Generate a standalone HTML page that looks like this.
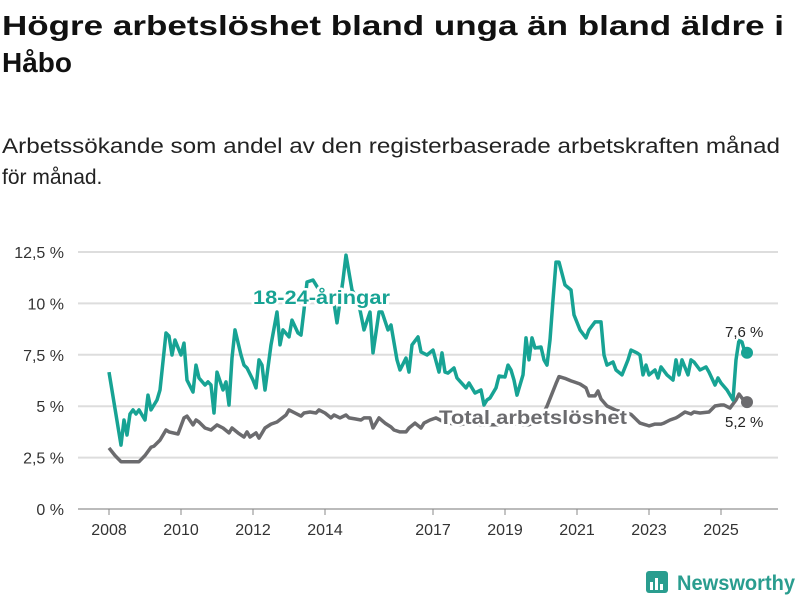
<!DOCTYPE html>
<html><head><meta charset="utf-8"><style>
body{margin:0;background:#fff;width:800px;height:600px;overflow:hidden;font-family:"Liberation Sans",sans-serif}
</style></head><body>
<svg id="chart" width="800" height="600" xmlns="http://www.w3.org/2000/svg" font-family="Liberation Sans, sans-serif">
<text x="2" y="35" font-size="28" font-weight="bold" fill="#111" textLength="782" lengthAdjust="spacingAndGlyphs">Högre arbetslöshet bland unga än bland äldre i</text>
<text x="2" y="72" font-size="28" font-weight="bold" fill="#111">Håbo</text>
<text x="2" y="153" font-size="21" fill="#222" textLength="778" lengthAdjust="spacingAndGlyphs">Arbetssökande som andel av den registerbaserade arbetskraften månad</text>
<text x="2" y="184" font-size="21" fill="#222">för månad.</text>
<g id="grid"></g><g id="axes"></g><g id="lines"></g><g id="labels"></g>
<g>
<rect x="646" y="571" width="22" height="22" rx="3" fill="#2a9d8f"/>
<rect x="650" y="582" width="3" height="8" fill="#fff"/><rect x="655" y="578" width="3" height="12" fill="#fff"/><rect x="660" y="584" width="3" height="6" fill="#fff"/>
<text x="677" y="590" font-size="21" font-weight="bold" fill="#2a9d8f" textLength="118" lengthAdjust="spacingAndGlyphs">Newsworthy</text>
</g>
</svg>
<script>
const yTicks=[0,2.5,5,7.5,10,12.5];
const yTickLabels=["0 %","2,5 %","5 %","7,5 %","10 %","12,5 %"];
const xTickYears=[2008,2010,2012,2014,2017,2019,2021,2023,2025];
const youthMonths=[0,4,5,6,7,8,9,10,12,13,14,16,17,19,20,21,22,24,25,26,28,29,30,32,33,34,35,36,38,39,40,41,42,44,45,46,48,49,50,51,52,54,56,57,58,60,61,63,64,65,66,68,69,72,75,76,78,79,81,83,85,87,88,90,91,93,94,96,97,99,100,101,103,104,106,108,110,111,112,113,115,116,119,120,122,124,125,126,127,129,130,132,133,134,135,136,138,139,140,141,142,144,145,146,147,148,149,150,152,154,155,157,159,160,162,164,165,166,168,169,171,173,174,176,177,178,179,180,182,183,184,186,188,189,190,191,193,194,195,197,199,200,202,203,204,206,208,209,210,211,212];
const youthValues=[6.66,3.11,4.33,3.6,4.62,4.82,4.62,4.82,4.33,5.54,4.82,5.3,5.79,8.56,8.41,7.49,8.22,7.49,8.07,6.27,5.69,7.0,6.37,6.03,6.18,6.03,4.67,6.66,5.79,6.18,5.06,7.34,8.71,7.49,7.0,6.86,6.27,5.89,7.25,7.0,5.79,7.98,9.58,7.98,8.71,8.37,9.19,8.56,8.46,9.68,11.04,11.14,10.9,10.17,10.02,9.05,11.14,12.35,10.65,10.17,8.71,9.58,7.59,9.58,9.58,8.71,8.95,7.25,6.76,7.34,6.66,7.98,8.37,7.64,7.49,7.73,6.66,7.59,6.66,6.61,6.86,6.37,5.89,6.13,5.64,5.79,5.06,5.3,5.4,5.89,6.47,6.42,7.0,6.76,6.27,5.54,6.52,8.32,7.25,8.32,7.83,7.88,7.25,7.0,8.22,10.17,12.01,12.01,10.9,10.65,9.44,8.71,8.32,8.71,9.1,9.1,7.49,7.0,7.15,6.76,6.52,7.25,7.73,7.59,7.49,6.52,7.0,6.52,6.76,6.37,6.91,6.52,6.27,7.25,6.52,7.25,6.52,7.25,7.15,6.76,6.91,6.66,6.03,6.37,6.13,5.79,5.3,7.25,8.22,8.12,7.6];
const totalMonths=[0,2,4,10,12,14,15,17,19,20,23,25,26,28,29,30,32,34,36,38,40,41,43,45,46,47,49,50,52,54,56,59,60,62,64,65,67,69,70,72,74,75,77,79,80,82,84,85,87,88,90,92,94,95,97,99,100,102,104,105,107,109,112,117,120,124,127,130,134,137,140,144,146,149,150,152,154,155,157,159,160,162,163,164,166,169,172,174,177,179,180,182,184,185,187,189,190,192,194,195,197,200,202,204,205,207,209,210,212];
const totalValues=[2.97,2.6,2.3,2.3,2.6,3.0,3.06,3.35,3.84,3.75,3.65,4.43,4.52,4.09,4.33,4.23,3.94,3.84,4.09,3.94,3.7,3.94,3.7,3.5,3.75,3.5,3.7,3.45,3.94,4.13,4.23,4.57,4.82,4.67,4.52,4.67,4.72,4.67,4.82,4.67,4.43,4.57,4.43,4.57,4.43,4.38,4.33,4.43,4.43,3.94,4.43,4.18,3.99,3.84,3.75,3.75,3.94,4.18,3.94,4.18,4.33,4.43,4.2,4.1,4.2,4.1,4.1,4.1,4.2,4.1,4.1,4.4,5.0,6.1,6.44,6.35,6.23,6.18,6.08,5.89,5.5,5.5,5.74,5.35,5.01,4.8,4.7,4.6,4.18,4.09,4.04,4.13,4.13,4.18,4.33,4.43,4.52,4.72,4.62,4.72,4.67,4.72,5.01,5.06,5.06,4.91,5.3,5.59,5.2];
const NS="http://www.w3.org/2000/svg";
function xS(m){return 109+m*3;}
function yS(v){return 509-v*20.56;}
function mk(tag,attrs,parent){const e=document.createElementNS(NS,tag);for(const k in attrs)e.setAttribute(k,attrs[k]);document.getElementById(parent).appendChild(e);return e;}
yTicks.forEach((t,i)=>{
 const l=mk('line',{x1:78,x2:778,y1:yS(t),y2:yS(t),stroke:t===0?'#bbb':'#ddd','stroke-width':2},'grid');
 
 
 const tx=mk('text',{x:64,y:yS(t)+6,'text-anchor':'end','font-size':16,fill:'#333'},'axes');
 tx.textContent=yTickLabels[i];
 
 
});
xTickYears.forEach(y=>{
 const x=xS((y-2008)*12);
 const tk=mk('line',{x1:x,x2:x,y1:509,y2:515,stroke:'#888','stroke-width':1},'axes');
 
 
 const tx=mk('text',{x:x,y:535,'text-anchor':'middle','font-size':16,fill:'#333'},'axes');
 tx.textContent=y;
 
 
});
function path(ms,vs){return ms.map((m,i)=>(i?'L':'M')+xS(m).toFixed(1)+','+yS(vs[i]).toFixed(1)).join('');}
const tp=mk('path',{d:path(totalMonths,totalValues),fill:'none',stroke:'#6b6b6e','stroke-width':3.5,'stroke-linejoin':'round'},'lines');


const yp=mk('path',{d:path(youthMonths,youthValues),fill:'none',stroke:'#17a394','stroke-width':3.5,'stroke-linejoin':'round'},'lines');


const lm=youthMonths[youthMonths.length-1];
const d1=mk('circle',{cx:xS(lm)+2,cy:yS(youthValues[youthValues.length-1]),r:6,fill:'#17a394'},'lines');


const d2=mk('circle',{cx:xS(lm)+2,cy:yS(totalValues[totalValues.length-1]),r:6,fill:'#6b6b6e'},'lines');


function lbl(txt,x,y,size,fill,weight,name,len){
 const a={x:x,y:y,'font-size':size,fill:fill,'font-weight':weight,stroke:'#fff','stroke-width':5,'paint-order':'stroke','stroke-linejoin':'round'};
 if(len){a.textLength=len;a.lengthAdjust='spacingAndGlyphs';}
 const t=mk('text',a,'labels');
 t.textContent=txt;
 
 
}
lbl('18-24-åringar',253,304,19,'#17a394','bold','youth-series-label',137);
lbl('Total arbetslöshet',439,424,19,'#6b6b6e','bold','total-series-label',188);
lbl('7,6 %',725,337,15,'#222','normal','youth-end-value');
lbl('5,2 %',725,427,15,'#222','normal','total-end-value');
</script>
</body></html>
